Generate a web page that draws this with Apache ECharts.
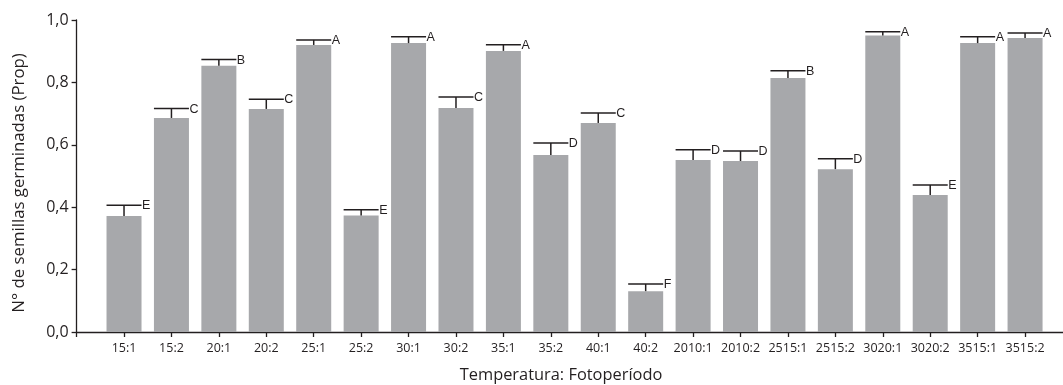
<!DOCTYPE html>
<html>
<head>
<meta charset="utf-8">
<script src="https://cdn.jsdelivr.net/npm/echarts@6/dist/echarts.min.js"></script>
<style>
html,body{margin:0;padding:0;background:#fff;}
#chart{width:1063px;height:385px;}
</style>
</head>
<body>
<div id="chart"></div>
<script>
const categories = ['15:1','15:2','20:1','20:2','25:1','25:2','30:1','30:2','35:1','35:2','40:1','40:2','2010:1','2010:2','2515:1','2515:2','3020:1','3020:2','3515:1','3515:2'];
const means = [0.372,0.686,0.853,0.715,0.920,0.373,0.926,0.718,0.901,0.567,0.670,0.131,0.551,0.548,0.814,0.522,0.950,0.439,0.926,0.942];
const upper = [0.406,0.716,0.873,0.746,0.936,0.392,0.946,0.753,0.921,0.606,0.702,0.154,0.584,0.580,0.837,0.555,0.962,0.471,0.946,0.958];
const letters = ['E','C','B','C','A','E','A','C','A','D','C','F','D','D','B','D','A','E','A','A'];
const yTickValues = [0, 0.2, 0.4, 0.6, 0.8, 1.0];
const yAxisTitle = 'N° de semillas germinadas (Prop)';
const xAxisTitle = 'Temperatura: Fotoperíodo';

const FONT = '"Open Sans", sans-serif';
const BAR_W = 35;
const INK = '#231f20';

const barData = means.map((v, i) => [i + 1, v]);
const errData = means.map((v, i) => [i + 1, v, upper[i], letters[i]]);

const chart = echarts.init(document.getElementById('chart'), null, {renderer: 'canvas'});
chart.setOption({
  animation: false,
  backgroundColor: '#ffffff',
  title: {
    text: xAxisTitle,
    left: 556, top: 362,
    textAlign: 'center',
    textStyle: {fontFamily: FONT, fontSize: 16.4, fontWeight: 'normal', color: INK}
  },
  grid: {left: 76.6, right: 0, top: 20, bottom: 53, containLabel: false},
  xAxis: {
    type: 'value',
    min: 0, max: 20.8, interval: 1,
    splitLine: {show: false},
    axisLine: {show: true, lineStyle: {color: INK, width: 1.3}},
    axisTick: {show: true, length: 5, lineStyle: {color: INK, width: 1.3}},
    axisLabel: {
      margin: 10,
      fontFamily: FONT, fontSize: 12.5, color: INK,
      showMaxLabel: false,
      formatter: function (v) { return categories[Math.round(v) - 1] || ''; }
    }
  },
  yAxis: {
    type: 'value',
    min: 0, max: 1, interval: 0.2,
    name: yAxisTitle,
    nameLocation: 'middle',
    nameGap: 49,
    nameTextStyle: {fontFamily: FONT, fontSize: 16.8, color: INK, padding: [0, 14, 0, 0]},
    splitLine: {show: false},
    axisLine: {show: true, lineStyle: {color: INK, width: 1.3}},
    axisTick: {show: true, length: 5, lineStyle: {color: INK, width: 1.3}},
    axisLabel: {
      margin: 8,
      fontFamily: FONT, fontSize: 16, color: INK,
      formatter: function (v) {
        const t = yTickValues.find(x => Math.abs(x - v) < 1e-6);
        return t === undefined ? '' : t.toFixed(1).replace('.', ',');
      }
    }
  },
  series: [
    {
      type: 'bar',
      data: barData,
      barWidth: BAR_W,
      itemStyle: {color: '#a7a8ab'},
      z: 2
    },
    {
      type: 'custom',
      data: errData,
      z: 3,
      renderItem: function (params, api) {
        const x = api.value(0);
        const p0 = api.coord([x, api.value(1)]);
        const p1 = api.coord([x, api.value(2)]);
        const half = BAR_W / 2;
        const ls = {stroke: INK, lineWidth: 1.5};
        return {
          type: 'group',
          children: [
            {type: 'line', shape: {x1: p0[0], y1: p0[1], x2: p1[0], y2: p1[1]}, style: ls},
            {type: 'line', shape: {x1: p1[0] - half, y1: p1[1], x2: p1[0] + half, y2: p1[1]}, style: ls},
            {type: 'text', style: {
              x: p1[0] + half + 0.5, y: p1[1] + 0.5,
              text: api.value(3),
              textAlign: 'left', textVerticalAlign: 'middle',
              fontFamily: '"Liberation Sans", Arial, sans-serif', fontSize: 12.5, fill: INK
            }}
          ]
        };
      }
    }
  ]
});
</script>
</body>
</html>
